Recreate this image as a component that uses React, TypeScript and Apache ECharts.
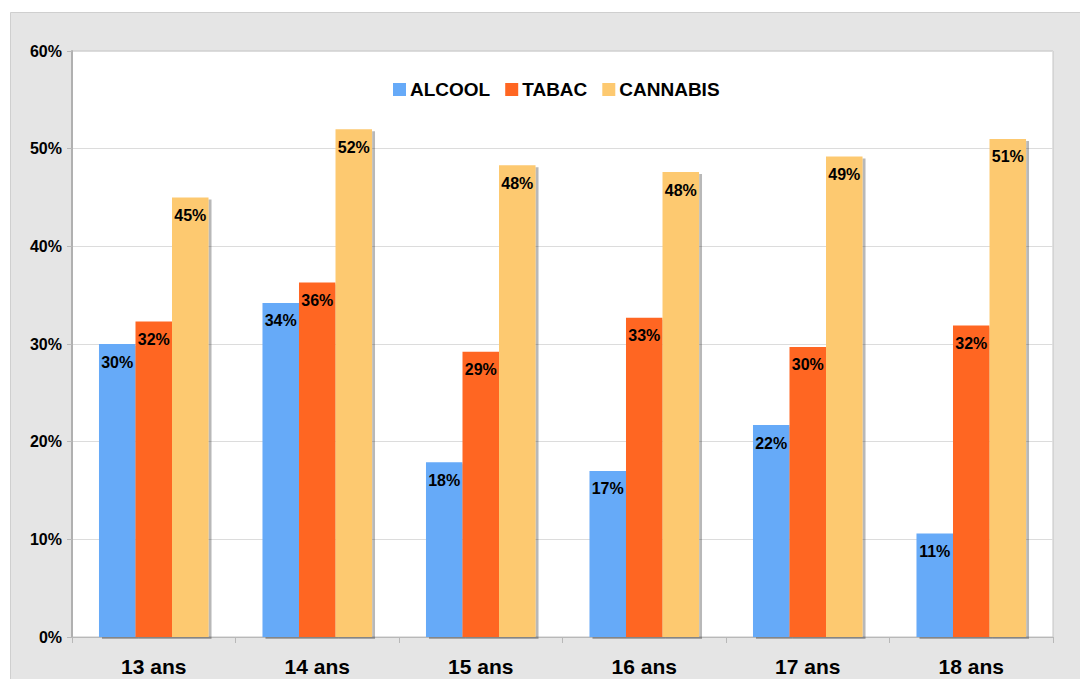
import React, { useEffect, useRef } from "react";
import * as echarts from "echarts";

const categories = ["13 ans", "14 ans", "15 ans", "16 ans", "17 ans", "18 ans"];
const alcool = [30.0, 34.2, 17.9, 17.0, 21.7, 10.6];
const tabac = [32.3, 36.3, 29.2, 32.7, 29.7, 31.9];
const cannabis = [45.0, 52.0, 48.3, 47.6, 49.2, 51.0];
const seriesNames = ["ALCOOL", "TABAC", "CANNABIS"];
const colors = ["#66aaf8", "#ff6622", "#fdc970"];

export default function App() {
  const ref = useRef<HTMLDivElement>(null);
  useEffect(() => {
    if (!ref.current) return;
    const chart = echarts.init(ref.current, null, { renderer: "svg" });
    const font = "'Liberation Sans', Arial, Helvetica, sans-serif";
    const mk = (name: string, data: number[], color: string) => ({
      name,
      type: "bar",
      data,
      barGap: "0%",
      barCategoryGap: "33%",
      itemStyle: {
        color,
        shadowColor: "rgba(0,0,0,0.28)",
        shadowOffsetX: 3,
        shadowOffsetY: 2,
        shadowBlur: 0,
      },
      label: {
        show: true,
        position: "insideTop",
        distance: 10,
        fontFamily: font,
        fontWeight: "bold",
        fontSize: 16,
        color: "#000",
        formatter: (p: any) => Math.round(p.value) + "%",
      },
    });
    chart.setOption({
      animation: false,
      backgroundColor: "#ffffff",
      textStyle: { fontFamily: font },
      graphic: [
        {
          type: "rect",
          z: -10,
          silent: true,
          shape: { x: 10.5, y: 12.5, width: 1080, height: 680 },
          style: { fill: "#e5e5e5", stroke: "#cfcfcf", lineWidth: 1 },
        },
      ],
      legend: {
        top: 75,
        left: 388,
        itemWidth: 13,
        itemHeight: 13,
        itemGap: 15,
        icon: "rect",
        data: seriesNames,
        textStyle: {
          fontFamily: font,
          fontWeight: "bold",
          fontSize: 19,
          color: "#000",
          padding: [0, 0, 0, -1],
        },
      },
      grid: {
        left: 72,
        top: 51,
        right: 27,
        bottom: 42,
        show: true,
        backgroundColor: "#ffffff",
        borderColor: "#c4c4c4",
        borderWidth: 1,
      },
      xAxis: {
        type: "category",
        data: categories,
        axisLine: { show: true, lineStyle: { color: "#b8b8b8", width: 1 } },
        axisTick: { show: true, length: 6, lineStyle: { color: "#b8b8b8" } },
        axisLabel: {
          fontFamily: font,
          fontWeight: "bold",
          fontSize: 21,
          color: "#000",
          margin: 19,
        },
      },
      yAxis: {
        type: "value",
        min: 0,
        max: 60,
        interval: 10,
        axisLine: { show: true, lineStyle: { color: "#b0b0b0", width: 2 } },
        axisTick: { show: true, length: 5, lineStyle: { color: "#b8b8b8" } },
        splitLine: { lineStyle: { color: "#dcdcdc" } },
        axisLabel: {
          fontFamily: font,
          fontWeight: "bold",
          fontSize: 16,
          color: "#000",
          margin: 10,
          formatter: "{value}%",
        },
      },
      series: [
        mk(seriesNames[0], alcool, colors[0]),
        mk(seriesNames[1], tabac, colors[1]),
        mk(seriesNames[2], cannabis, colors[2]),
      ],
    });
    return () => chart.dispose();
  }, []);
  return (
    <div
      ref={ref}
      style={{ position: "fixed", left: 0, top: 0, width: 1080, height: 679 }}
    />
  );
}
